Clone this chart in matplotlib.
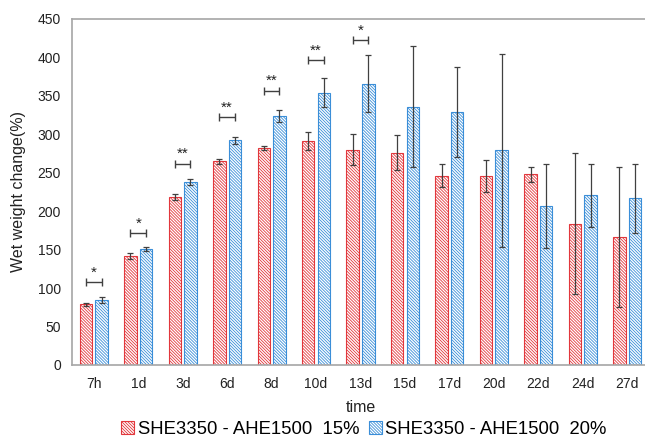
import numpy as np
import matplotlib
matplotlib.use("Agg")
import matplotlib.pyplot as plt

plt.rcParams['font.family'] = ['Liberation Sans', 'DejaVu Sans']
plt.rcParams['hatch.linewidth'] = 0.6

# data
times = ["7h", "1d", "3d", "6d", "8d", "10d", "13d", "15d", "17d", "20d", "22d", "24d", "27d"]
mean_15 = [79, 142, 219, 265, 282, 291, 280, 276, 246, 246, 248, 184, 166]
err_15 = [2, 4, 4, 3, 3, 12, 20, 23, 15, 21, 10, 92, 91]
mean_20 = [85, 151, 238, 292, 324, 354, 366, 336, 329, 279, 207, 221, 217]
err_20 = [4, 3, 4, 5, 8, 19, 37, 79, 59, 126, 55, 41, 45]

# significance marks: category index, bracket height, label
sig_idx = [0, 1, 2, 3, 4, 5, 6]
sig_y = [108, 172, 262, 322, 357, 397, 423]
sig_txt = ["*", "*", "**", "**", "**", "**", "*"]

red = "#e2373c"
blue = "#3a8ed8"
err_col = "#404040"
txt_col = "#222222"

fig = plt.figure(figsize=(6.45, 4.41), dpi=100)
ax = fig.add_axes([72 / 645, 76 / 441, 577 / 645, 346 / 441])

x = np.arange(len(times))
w = 0.28
off = 0.175
hatch = "\\" * 11

ax.bar(x - off, mean_15, w, color="white", edgecolor=red, hatch=hatch, linewidth=0.8,
       label="SHE3350 - AHE1500  15%")
ax.bar(x + off, mean_20, w, color="white", edgecolor=blue, hatch=hatch, linewidth=0.8,
       label="SHE3350 - AHE1500  20%")
ax.errorbar(x - off, mean_15, yerr=err_15, fmt="none", ecolor=err_col, elinewidth=0.9, capsize=2.2, capthick=0.9)
ax.errorbar(x + off, mean_20, yerr=err_20, fmt="none", ecolor=err_col, elinewidth=0.9, capsize=2.2, capthick=0.9)

for i, yv, t in zip(sig_idx, sig_y, sig_txt):
    ax.errorbar(x[i], yv, xerr=off, fmt="none", ecolor=err_col, elinewidth=1.0, capsize=3, capthick=1.0)
    ax.text(x[i], yv + 3, t, ha="center", va="bottom", fontsize=11, color=txt_col)

ax.set_xlim(-0.49, len(times) - 0.51)
ax.set_ylim(0, 450)
ax.set_yticks(range(0, 451, 50))
ax.set_xticks(x)
ax.set_xticklabels(times)
ax.tick_params(length=0, labelsize=10, colors=txt_col, pad=8)
ax.tick_params(axis="x", pad=9)

for s in ["left", "top", "bottom"]:
    ax.spines[s].set_color("#a6a6a6")
    ax.spines[s].set_linewidth(1.2)
ax.spines["right"].set_visible(False)

ax.set_ylabel("Wet weight change(%)", fontsize=11.5, color=txt_col, labelpad=8)
ax.set_xlabel("time", fontsize=11.5, color=txt_col, labelpad=6)

fig.legend(loc="center", bbox_to_anchor=(364 / 645, 1 - 429 / 441), ncol=2, frameon=False,
           fontsize=13.3, handlelength=0.7, handleheight=0.7, handletextpad=0.2, columnspacing=0.5,
           borderpad=0.1)

fig.savefig("out.png", dpi=100)
